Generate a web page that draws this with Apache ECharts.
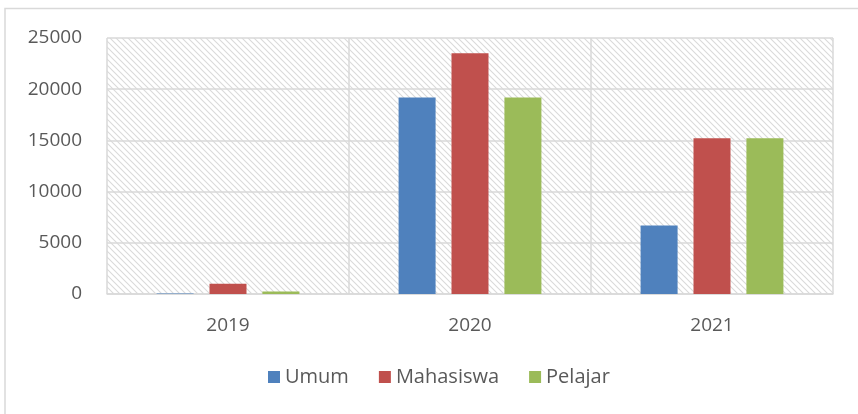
<!DOCTYPE html>
<html>
<head>
<meta charset="utf-8">
<script src="https://cdn.jsdelivr.net/npm/echarts@6/dist/echarts.min.js"></script>
<style>
html, body { margin: 0; padding: 0; background: #fff; }
#chart { width: 858px; height: 414px; }
</style>
</head>
<body>
<div id="chart"></div>
<script>
var years = ['2019', '2020', '2021'];
var umum = [60, 19200, 6700];
var mahasiswa = [1000, 23500, 15200];
var pelajar = [250, 19200, 15200];
var yTicks = [0, 5000, 10000, 15000, 20000, 25000];

// diagonal hatch for the plot background
function hatch() {
    var c = document.createElement('canvas');
    c.width = 6;
    c.height = 6;
    var ctx = c.getContext('2d');
    ctx.fillStyle = '#fff';
    ctx.fillRect(0, 0, 6, 6);
    ctx.strokeStyle = '#dadada';
    ctx.lineWidth = 1.1;
    ctx.beginPath();
    ctx.moveTo(-1, -1); ctx.lineTo(7, 7);
    ctx.moveTo(-1, 5); ctx.lineTo(1, 7);
    ctx.moveTo(5, -1); ctx.lineTo(7, 1);
    ctx.stroke();
    return c;
}

var myChart = echarts.init(document.getElementById('chart'));
var font = '"Open Sans", sans-serif';
var option = {
    animation: false,
    textStyle: { fontFamily: font },
    graphic: [{
        type: 'polyline',
        shape: { points: [[5, 414], [5, 8.5], [858, 8.5]] },
        style: { stroke: '#d9d9d9', lineWidth: 1.5, fill: null }
    }],
    grid: {
        left: 107,
        right: 25,
        top: 38,
        bottom: 120,
        show: true,
        borderWidth: 0,
        backgroundColor: { image: hatch(), repeat: 'repeat' }
    },
    legend: {
        bottom: 22,
        left: 263,
        icon: 'rect',
        itemWidth: 12,
        itemHeight: 12,
        itemGap: 30,
        textStyle: { fontSize: 20, color: '#595959', fontFamily: font }
    },
    xAxis: {
        type: 'category',
        data: years,
        axisTick: { show: false },
        axisLine: { lineStyle: { color: '#d9d9d9', width: 1.5 } },
        axisLabel: { color: '#595959', fontSize: 19, margin: 22 },
        splitLine: { show: true, lineStyle: { color: '#d9d9d9', width: 1.5 } }
    },
    yAxis: {
        type: 'value',
        min: yTicks[0],
        max: yTicks[yTicks.length - 1],
        interval: 5000,
        axisLine: { show: false },
        axisTick: { show: false },
        axisLabel: {
            color: '#595959',
            fontSize: 19,
            margin: 25,
            formatter: function (v) { return String(v); }
        },
        splitLine: { lineStyle: { color: '#d9d9d9', width: 1.5 } }
    },
    series: [{
        name: 'Umum',
        type: 'bar',
        data: umum,
        barWidth: 37,
        barGap: '43%',
        itemStyle: { color: '#4f81bd' }
    }, {
        name: 'Mahasiswa',
        type: 'bar',
        data: mahasiswa,
        barWidth: 37,
        barGap: '43%',
        itemStyle: { color: '#c0504d' }
    }, {
        name: 'Pelajar',
        type: 'bar',
        data: pelajar,
        barWidth: 37,
        barGap: '43%',
        itemStyle: { color: '#9bbb59' }
    }]
};
myChart.setOption(option);
</script>
</body>
</html>
